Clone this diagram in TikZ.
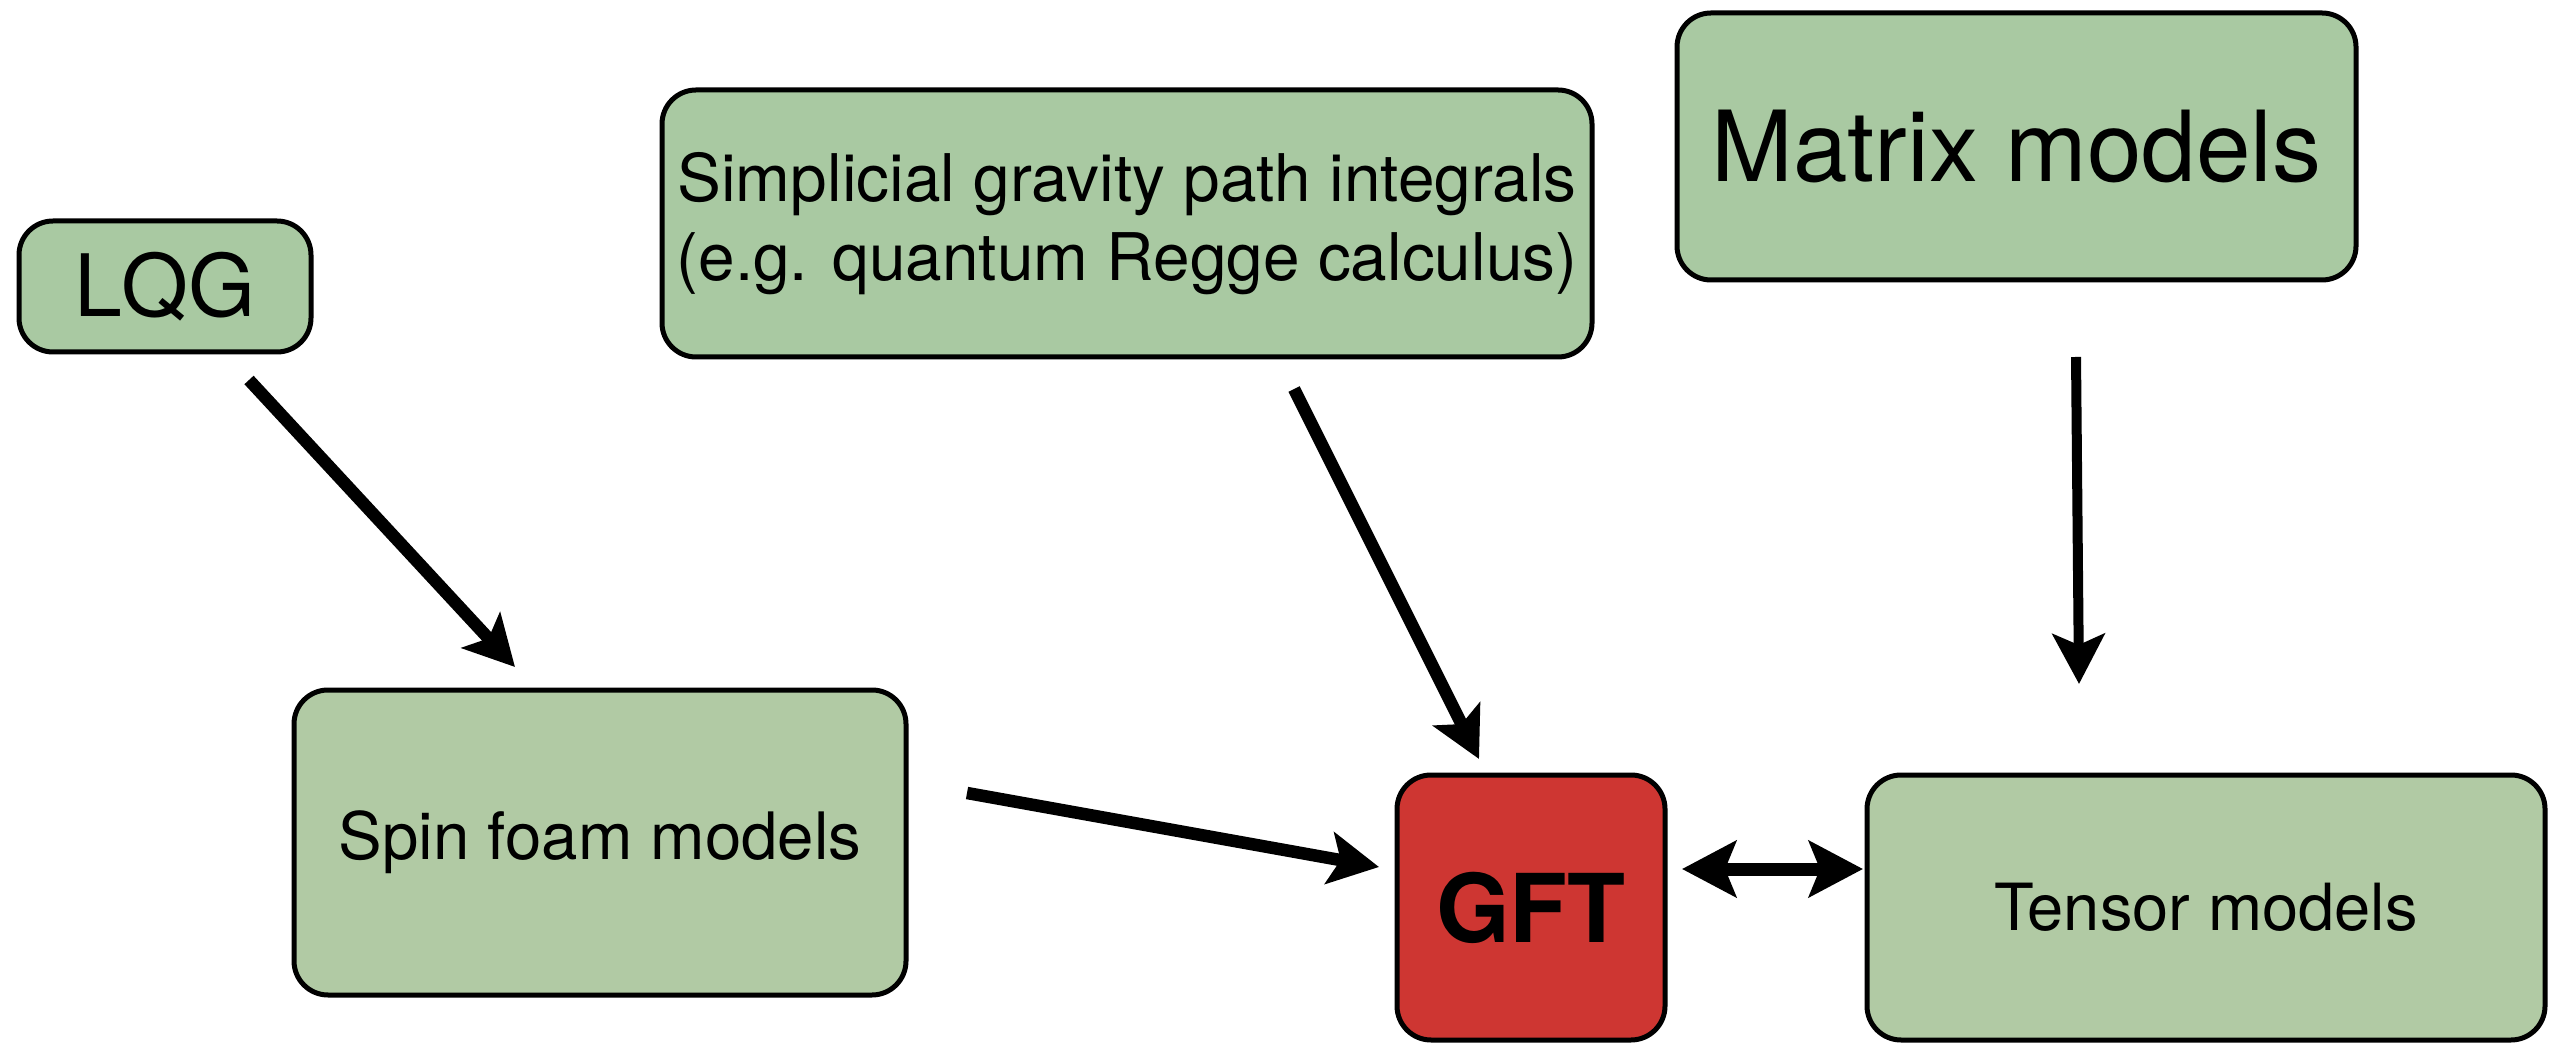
\documentclass[tikz,border=0pt]{standalone}
\usepackage{fontspec}
\setmainfont{TeX Gyre Heros}
\usetikzlibrary{arrows.meta}
\definecolor{topgreen}{HTML}{A9C9A2}
\definecolor{botgreen}{HTML}{B1CAA4}
\definecolor{gftred}{HTML}{CE3632}
\tikzset{
  box/.style={draw=black, line width=0.5mm, rounded corners=3.4mm, inner sep=0pt, align=center},
  arr/.style={line width=1.25mm, -{Stealth[length=5mm,width=5.2mm,inset=1.1mm]}},
  darr/.style={line width=1.3mm, {Stealth[length=5.4mm,width=5.6mm,inset=1.1mm]}-{Stealth[length=5.4mm,width=5.6mm,inset=1.1mm]}},
}
\begin{document}
\begin{tikzpicture}[x=0.1mm,y=-0.1mm]
\useasboundingbox (0,0) rectangle (2565,1045);
\node[box, fill=topgreen, minimum width=29.2mm, minimum height=13.1mm, font=\fontsize{24.5}{28}\selectfont] (lqg) at (165,286.5) {LQG};
\node[box, fill=topgreen, minimum width=93mm, minimum height=26.7mm, font=\fontsize{18.7}{22.3}\selectfont] (simp) at (1127,223.5) {Simplicial gravity path integrals\\(e.g. quantum Regge calculus)};
\node[box, fill=topgreen, minimum width=67.9mm, minimum height=26.7mm, font=\fontsize{27.9}{32}\selectfont] (matrix) at (2016.5,146.5) {Matrix models};
\node[box, fill=botgreen, minimum width=61.2mm, minimum height=30.5mm, font=\fontsize{18.6}{22}\selectfont] (spin) at (600,842.5) {Spin foam models};
\node[box, fill=gftred, minimum width=26.8mm, minimum height=26.5mm, font=\fontsize{27}{31}\selectfont\bfseries] (gft) at (1531,907.5) {GFT};
\node[box, fill=botgreen, minimum width=67.8mm, minimum height=26.5mm, font=\fontsize{18.5}{22}\selectfont] (tensor) at (2206,907.5) {Tensor models};
% arrow ends
\coordinate (lqgout) at (249,380);
\coordinate (spinin) at (515,667);
\coordinate (simpout) at (1294,389);
\coordinate (gfttop) at (1479,759);
\coordinate (matout) at (2076,357);
\coordinate (tensin) at (2079,684);
\coordinate (spinout) at (967,793);
\coordinate (gftleft) at (1379,867);
\coordinate (gftright) at (1682,869);
\coordinate (tensleft) at (1863,869);
\draw[arr] (lqgout) -- (spinin);
\draw[arr] (simpout) -- (gfttop);
\draw[arr, line width=1mm] (matout) -- (tensin);
\draw[arr] (spinout) -- (gftleft);
\draw[darr] (gftright) -- (tensleft);
\end{tikzpicture}
\end{document}
